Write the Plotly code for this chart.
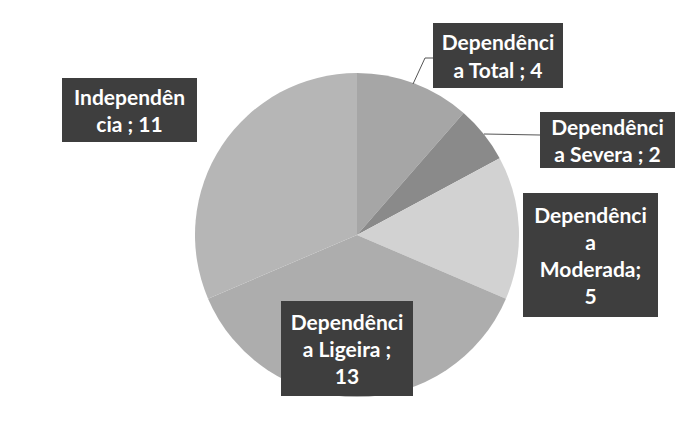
import plotly.graph_objects as go

labels = ["Dependência Total", "Dependência Severa", "Dependência Moderada",
          "Dependência Ligeira", "Independência"]
values = [4, 2, 5, 13, 11]
colors = ["#a6a6a6", "#8a8a8a", "#d2d2d2", "#adadad", "#b6b6b6"]
label_texts = ["Dependênci<br>a Total ; 4", "Dependênci<br>a Severa ; 2",
               "Dependênci<br>a<br>Moderada;<br>5", "Dependênci<br>a Ligeira ;<br>13",
               "Independên<br>cia ; 11"]

W, H = 687, 448
OFF = 8  # page body margin
cx, cy, r = 357, 235, 162


def px(x):
    return (x - OFF) / W


def py(y):
    return 1 - (y - OFF) / H


fig = go.Figure(go.Pie(
    labels=labels, values=values, sort=False, direction="clockwise", rotation=0,
    marker=dict(colors=colors, line=dict(width=0)),
    textinfo="none", hoverinfo="label+value", showlegend=False,
    domain=dict(x=[px(cx - r), px(cx + r)], y=[py(cy + r), py(cy - r)]),
))

# label box centers (px) and sizes
boxes = [
    (498, 55, 130, 65),
    (607, 140, 135, 56),
    (590, 255, 135, 124),
    (347, 348, 132, 95),
    (130, 110, 135, 64),
]
for txt, (bx, by, bw, bh) in zip(label_texts, boxes):
    fig.add_annotation(
        x=px(bx), y=py(by), xref="paper", yref="paper", showarrow=False,
        text=txt, align="center", xanchor="center", yanchor="middle",
        width=bw - 4, height=bh - 4, borderpad=2, borderwidth=0,
        bgcolor="#3e3e3e",
        font=dict(family="Liberation Sans Narrow, Lato, sans-serif", size=21,
                  color="white", weight="bold"),
    )

# leader lines
lines = [
    [(413, 84), (425, 58), (433, 58)],
    [(484, 134), (540, 135)],
]
for pts in lines:
    path = "M " + " L ".join(f"{px(x)},{py(y)}" for x, y in pts)
    fig.add_shape(type="path", path=path, xref="paper", yref="paper",
                  line=dict(color="#555555", width=1))

fig.update_layout(
    width=W, height=H, margin=dict(l=0, r=0, t=0, b=0),
    paper_bgcolor="white", plot_bgcolor="white",
)
fig.write_html("out.html")
